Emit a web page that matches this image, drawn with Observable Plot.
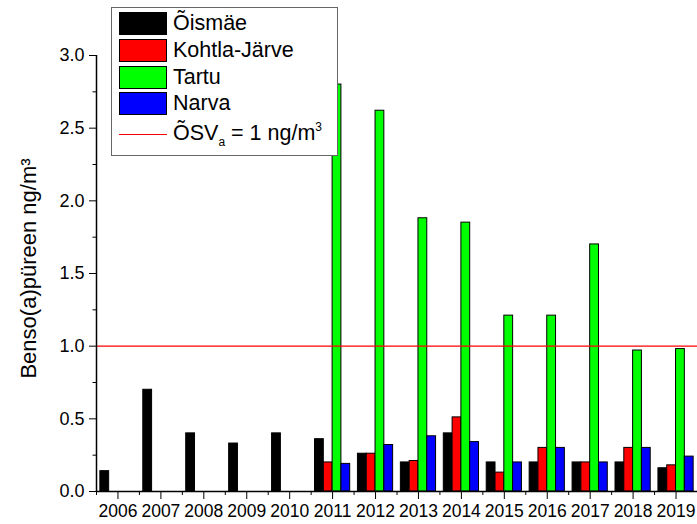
<!DOCTYPE html>
<html><head><meta charset="utf-8">
<script src="https://cdn.jsdelivr.net/npm/d3@7"></script>
<script src="https://cdn.jsdelivr.net/npm/@observablehq/plot@0.6"></script>
<style>
body{margin:0;background:#fff;font-family:"Liberation Sans",Arial,sans-serif}
#wrap{position:relative;width:697px;height:524px}
#legend{position:absolute;left:111px;top:7px;width:225px;height:147px;border:1px solid #666;background:#fff}
.row{position:absolute;left:7px;height:23px;display:flex;align-items:center;font-size:21.5px;line-height:23px;color:#000;white-space:nowrap}
.sw{box-sizing:border-box;width:48px;height:23px;border:1px solid #000;margin-right:6px}
.ln{width:48px;height:0;border-top:1px solid #ff0000;margin-right:6px}
sub{font-size:12px;vertical-align:-6px}
sup{font-size:12px;vertical-align:9px}
</style></head><body><div id="wrap"><div id="legend"></div></div>
<script>
const years=[2006,2007,2008,2009,2010,2011,2012,2013,2014,2015,2016,2017,2018,2019];
const series=["Õismäe","Kohtla-Järve","Tartu","Narva"];
const colors=["#000000","#ff0000","#00ff00","#0000ff"];
const oismae=[0.14,0.70,0.40,0.33,0.40,0.36,0.26,0.20,0.40,0.20,0.20,0.20,0.20,0.16];
const kohtlaJarve=[null,null,null,null,null,0.20,0.26,0.21,0.51,0.13,0.30,0.20,0.30,0.18];
const tartu=[null,null,null,null,null,2.80,2.62,1.88,1.85,1.21,1.21,1.70,0.97,0.98];
const narva=[null,null,null,null,null,0.19,0.32,0.38,0.34,0.20,0.30,0.20,0.30,0.24];
const limitValue=1;
const limitLabel='ÕSV<sub>a</sub> = 1 ng/m<sup>3</sup>';
const yTicks=[0,0.5,1,1.5,2,2.5,3];
const yMinor=[0.25,0.75,1.25,1.75,2.25,2.75];
const xMinor=[2005.5,2006.5,2007.5,2008.5,2009.5,2010.5,2011.5,2012.5,2013.5,2014.5,2015.5,2016.5,2017.5,2018.5];
const yTitle="Benso(a)püreen ng/m³";

const seriesValues=[oismae,kohtlaJarve,tartu,narva];
const barW=0.205;
const rows=[];
years.forEach((yr,i)=>seriesValues.forEach((vals,s)=>{
  if(vals[i]!=null){
    const x1=yr-2*barW+s*barW;
    rows.push({year:yr,series:series[s],value:vals[i],x1:x1,x2:x1+barW});
  }
}));

const chart=Plot.plot({
  width:697,height:524,marginLeft:96,marginRight:0,marginTop:55,marginBottom:33,
  style:{fontFamily:'"Liberation Sans",Arial,sans-serif',fontSize:"17px",color:"#000",background:"transparent"},
  x:{domain:[2005.5,2019.5]},
  y:{domain:[0,3]},
  color:{domain:series,range:colors},
  marks:[
    Plot.rect(rows,{x1:"x1",x2:"x2",y1:0,y2:"value",fill:"series",stroke:"#000",strokeWidth:1}),
    Plot.ruleY([limitValue],{stroke:"#ff0000",strokeWidth:1.3}),
    Plot.ruleY([0],{stroke:"#000",strokeWidth:1.5}),
    Plot.ruleX([2005.5],{y1:0,y2:3,stroke:"#000",strokeWidth:1.5}),
    Plot.axisX(years,{tickSize:8,tickPadding:5,tickFormat:d=>String(d),label:null,fontSize:17.5}),
    Plot.axisX(xMinor,{tickSize:4,tickFormat:()=>"",label:null}),
    Plot.axisY(yTicks,{tickSize:7,tickPadding:5,tickFormat:d=>d.toFixed(1),label:null,fontSize:18}),
    Plot.axisY(yMinor,{tickSize:3.5,tickFormat:()=>"",label:null}),
    Plot.text([yTitle],{frameAnchor:"left",textAnchor:"middle",rotate:-90,dx:-68,dy:-5,fontSize:22})
  ]
});
const wrap=document.getElementById("wrap");
wrap.insertBefore(chart,wrap.firstChild);

const legend=document.getElementById("legend");
const tops=[4,31,58,84];
series.forEach((s,i)=>{
  const r=document.createElement("div");
  r.className="row";r.style.top=tops[i]+"px";
  r.innerHTML='<div class="sw" style="background:'+colors[i]+'"></div><span>'+s+'</span>';
  legend.appendChild(r);
});
const lr=document.createElement("div");
lr.className="row";lr.style.top="115px";
lr.innerHTML='<div class="ln"></div><span>'+limitLabel+'</span>';
legend.appendChild(lr);
</script></body></html>
